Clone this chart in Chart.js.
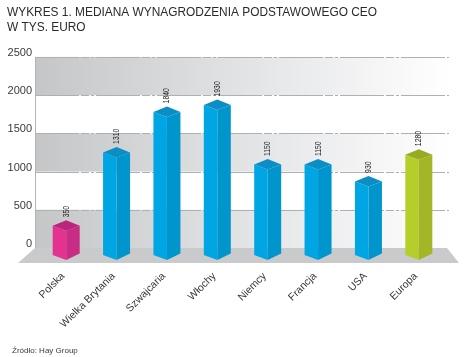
<!DOCTYPE html>
<html>
<head>
<meta charset="utf-8">
<style>
  html, body { margin: 0; padding: 0; background: #fff; }
  canvas { display: block; }
</style>
</head>
<body>
<canvas id="wykres" width="470" height="357"></canvas>
<script src="https://cdn.jsdelivr.net/npm/chart.js@4"></script>
<script>
const titleLines = ["WYKRES 1. MEDIANA WYNAGRODZENIA PODSTAWOWEGO CEO", "W TYS. EURO"];
const sourceText = "Źródło: Hay Group";
const categories = ["Polska", "Wielka Brytania", "Szwajcaria", "Włochy", "Niemcy", "Francja", "USA", "Europa"];
const values = [350, 1310, 1840, 1930, 1150, 1150, 930, 1280];
const tickValues = [0, 500, 1000, 1500, 2000, 2500];

// kolory: front, bok, góra
const pink = ["#e33290", "#c92c85", "#b9267b"];
const blue = ["#00a6e4", "#0096cd", "#0a8ec4"];
const green = ["#b6ce2c", "#a3b627", "#98a922"];
const barColors = [pink, blue, blue, blue, blue, blue, blue, green];

const fontName = "'Liberation Sans', Arial, sans-serif";
const textColor = "#3a3a3a";

// ściana, pasy i podłoga pod słupkami
const wallPlugin = {
  id: "wall",
  beforeDatasetsDraw(chart) {
    const ctx = chart.ctx;
    const y = chart.scales.y;
    const left = chart.chartArea.left - 6;
    const right = chart.chartArea.right + 5;
    const y0 = y.getPixelForValue(0);
    ctx.save();

    const grad = ctx.createLinearGradient(left, 0, right, 0);
    grad.addColorStop(0, "#c5c6c8");
    grad.addColorStop(0.5, "#e2e3e5");
    grad.addColorStop(1, "#ffffff");
    ctx.fillStyle = grad;
    for (let i = 0; i < tickValues.length - 1; i += 2) {
      const a = y.getPixelForValue(tickValues[i]);
      const b = y.getPixelForValue(tickValues[i + 1]);
      ctx.fillRect(left, b, right - left, a - b);
    }

    // podłoga
    ctx.fillStyle = "#c9cacc";
    ctx.beginPath();
    ctx.moveTo(left, y0);
    ctx.lineTo(right - 2, y0);
    ctx.lineTo(right + 10, y0 + 15);
    ctx.lineTo(left - 17, y0 + 15);
    ctx.closePath();
    ctx.fill();

    // linie siatki
    ctx.strokeStyle = "#b0b0b0";
    ctx.lineWidth = 1;
    ctx.setLineDash([44, 2, 8, 2, 3, 2]);
    tickValues.slice(1).forEach((v) => {
      const py = Math.round(y.getPixelForValue(v)) + 0.5;
      ctx.beginPath();
      ctx.moveTo(left, py);
      ctx.lineTo(right, py);
      ctx.stroke();
    });
    ctx.setLineDash([]);

    // oś pionowa
    ctx.strokeStyle = "#b4b4b4";
    ctx.beginPath();
    ctx.moveTo(left + 0.5, y.getPixelForValue(2500));
    ctx.lineTo(left + 0.5, y0);
    ctx.stroke();
    ctx.restore();
  },
};

// słupki 3D zamiast zwykłych prostokątów
const boxPlugin = {
  id: "box3d",
  beforeDatasetDraw(chart, args) {
    const ctx = chart.ctx;
    const y0 = chart.scales.y.getPixelForValue(0);
    args.meta.data.forEach((bar, i) => {
      const cols = barColors[i];
      const x = bar.x;
      const hw = bar.width / 2;
      const back = bar.y - 1;
      const sideY = back + 5.5;
      const frontY = back + 10.5;
      const baseSide = y0 + 7;
      const baseFront = y0 + 12;

      ctx.save();
      ctx.fillStyle = cols[0];
      ctx.beginPath();
      ctx.moveTo(x - hw, sideY);
      ctx.lineTo(x, frontY);
      ctx.lineTo(x, baseFront);
      ctx.lineTo(x - hw, baseSide);
      ctx.closePath();
      ctx.fill();

      ctx.fillStyle = cols[1];
      ctx.beginPath();
      ctx.moveTo(x, frontY);
      ctx.lineTo(x + hw, sideY);
      ctx.lineTo(x + hw, baseSide - 1.5);
      ctx.lineTo(x, baseFront);
      ctx.closePath();
      ctx.fill();

      ctx.fillStyle = cols[2];
      ctx.beginPath();
      ctx.moveTo(x - hw, sideY);
      ctx.lineTo(x, back);
      ctx.lineTo(x + hw, sideY);
      ctx.lineTo(x, frontY);
      ctx.closePath();
      ctx.fill();

      // etykieta wartości
      ctx.translate(x, back - 3);
      ctx.rotate(-Math.PI / 2);
      ctx.scale(0.76, 1);
      ctx.font = "9px " + fontName;
      ctx.fillStyle = "#222222";
      ctx.textAlign = "left";
      ctx.textBaseline = "middle";
      ctx.fillText(String(values[i]), 0, 0);
      ctx.restore();
    });
    return false;
  },
  afterDraw(chart) {
    const ctx = chart.ctx;
    ctx.save();
    ctx.font = "8px " + fontName;
    ctx.fillStyle = textColor;
    ctx.textAlign = "left";
    ctx.textBaseline = "alphabetic";
    ctx.fillText(sourceText, 12, 353);
    ctx.restore();
  },
};

new Chart(document.getElementById("wykres"), {
  type: "bar",
  data: {
    labels: categories,
    datasets: [{ data: values, barThickness: 27, backgroundColor: blue[0] }],
  },
  options: {
    responsive: false,
    animation: false,
    layout: { padding: { left: 7, right: 26, top: 5, bottom: 0 } },
    plugins: {
      legend: { display: false },
      tooltip: { enabled: false },
      title: {
        display: true,
        text: titleLines,
        align: "start",
        color: "#2a2a2a",
        font: { family: fontName, size: 11.9, weight: "normal", lineHeight: 1.3 },
        padding: { top: 0, bottom: 21 },
      },
    },
    scales: {
      x: {
        grid: { display: false, drawTicks: false },
        border: { display: false },
        afterFit(scale) { scale.height = 109; },
        ticks: {
          minRotation: 45,
          maxRotation: 45,
          autoSkip: false,
          padding: 22,
          labelOffset: -3,
          color: textColor,
          font: { family: fontName, size: 10.5 },
        },
      },
      y: {
        min: 0,
        max: 2500,
        grid: { display: false, drawTicks: false },
        border: { display: false },
        afterFit(scale) { scale.width = 34; },
        ticks: {
          stepSize: 500,
          padding: 9,
          labelOffset: -4,
          color: textColor,
          font: { family: fontName, size: 11 },
          callback: (v) => String(v),
        },
      },
    },
  },
  plugins: [wallPlugin, boxPlugin],
});
</script>
</body>
</html>
